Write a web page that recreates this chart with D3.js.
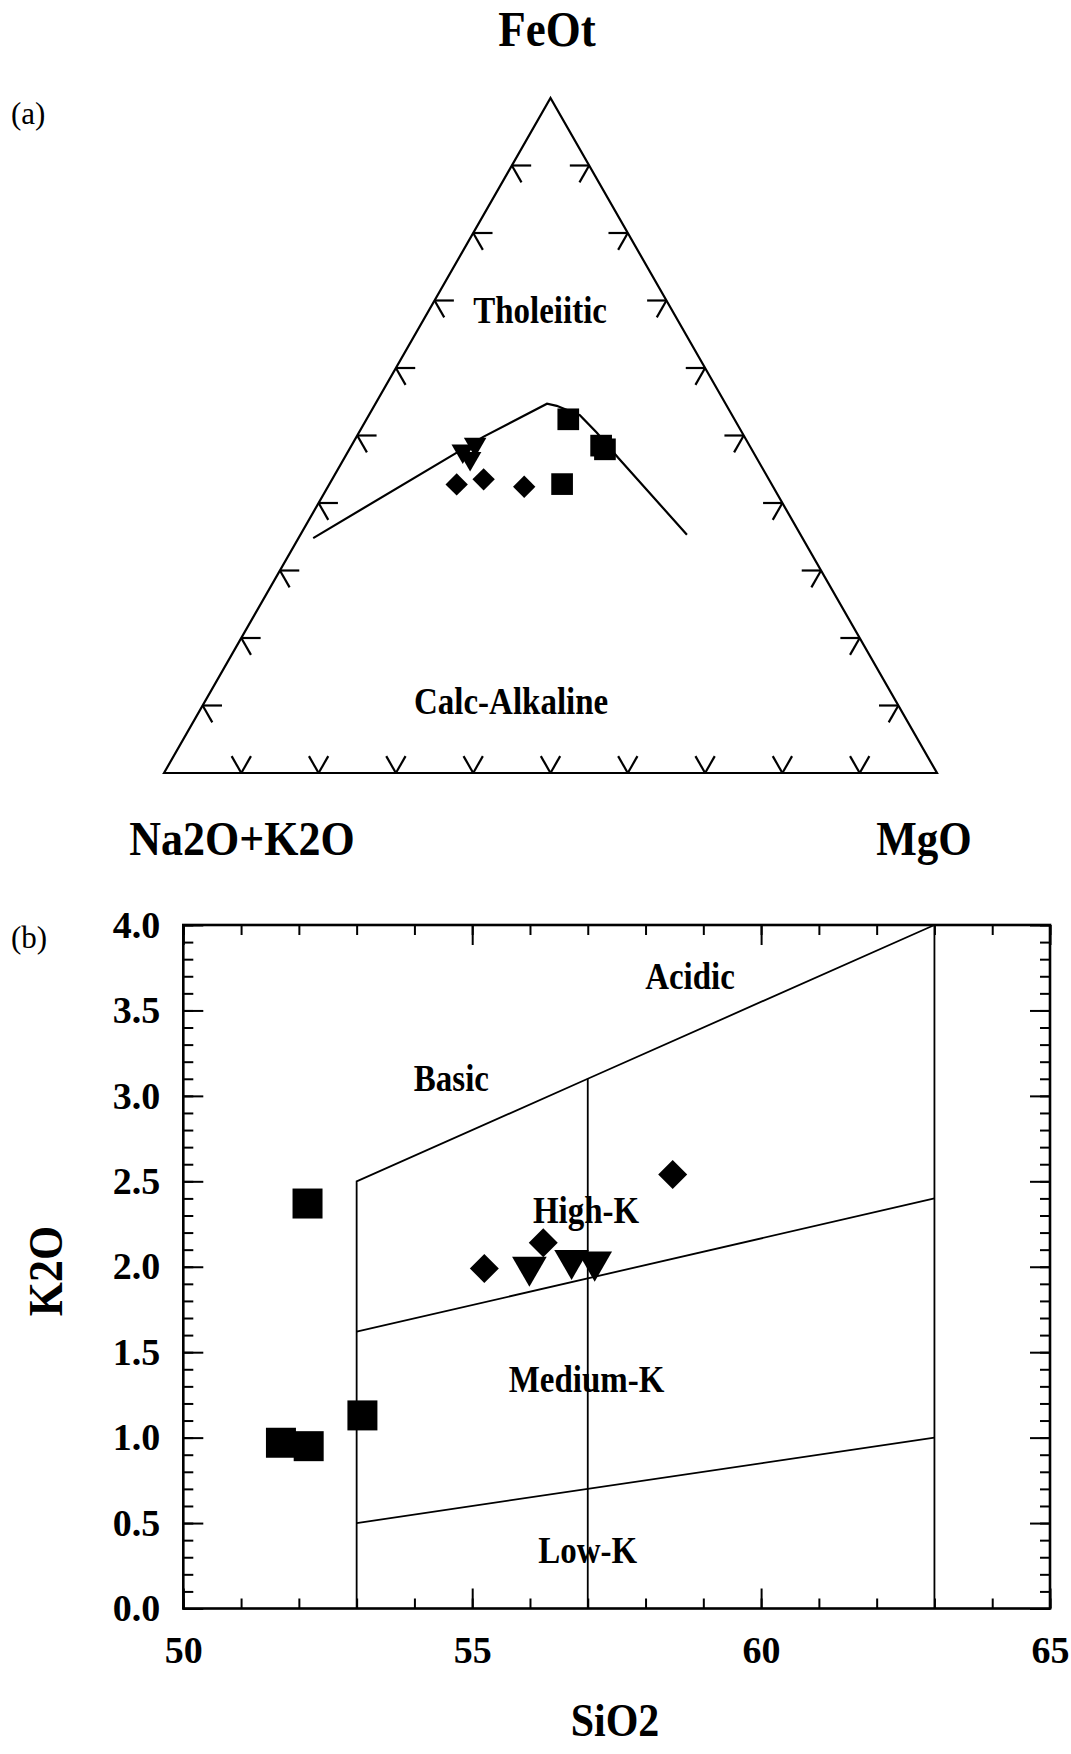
<!DOCTYPE html>
<html>
<head>
<meta charset="utf-8">
<script src="https://cdn.jsdelivr.net/npm/d3@7"></script>
<style>
  body { margin: 0; background: #fff; }
  svg { display: block; }
</style>
</head>
<body>
<svg id="fig" width="1071" height="1754"></svg>
<script>
// (a) AFM ternary, values as [Na2O+K2O, FeOt, MgO] in %
const afmBoundary = [[63.3, 34.8, 1.9], [33.8, 49.8, 16.4], [23.1, 54.7, 22.2], [22.0, 54.4, 23.6],
  [19.7, 53.0, 27.3], [18.8, 50.4, 30.8], [17.9, 46.7, 35.4], [14.7, 35.3, 50.0]];
const afmSquares = [[27.1, 42.8, 30.1], [21.5, 52.4, 26.1], [19.0, 48.0, 33.1], [19.2, 48.5, 32.3]];
const afmDiamonds = [[40.8, 42.8, 16.5], [36.9, 43.5, 19.6], [32.2, 42.4, 25.4]];
const afmTriangles = [[37.5, 47.7, 14.8], [37.1, 46.6, 16.3], [35.4, 48.7, 15.9]];
const ternTicks = [10, 20, 30, 40, 50, 60, 70, 80, 90];
const afmFields = ['Tholeiitic', 'Calc-Alkaline'];
const afmFieldPos = [[17.2, 68.3, 14.5], [49.9, 10.4, 39.7]];

// (b) K2O vs SiO2 (wt%)
const sqSiO2 = [52.15, 51.69, 52.17, 53.1];
const sqK2O = [2.37, 0.97, 0.95, 1.13];
const diSiO2 = [55.21, 56.23, 58.47];
const diK2O = [1.99, 2.14, 2.54];
const trSiO2 = [55.99, 56.72, 57.12];
const trK2O = [2.0, 2.04, 2.03];
const xMajor = [50, 55, 60, 65];
const yMajor = [0, 0.5, 1, 1.5, 2, 2.5, 3, 3.5, 4];
const fieldLines = [
  [[53, 0], [53, 2.5], [57, 3.1], [63, 4.0]],
  [[57, 0], [57, 3.1]],
  [[63, 0], [63, 4.0]],
  [[53, 1.62], [63, 2.4]],
  [[53, 0.5], [63, 1.0]]
];
const kFields = ['Acidic', 'Basic', 'High-K', 'Medium-K', 'Low-K'];
const kFieldPos = [[58.77, 3.69], [54.64, 3.09], [56.97, 2.32], [56.98, 1.33], [57.0, 0.33]];

const svg = d3.select('#fig');
const SERIF = '"Liberation Serif", "Times New Roman", serif';

// bold serif text, slightly stretched vertically like the scan
function label(parent, txt, x, y, size, anchor = 'middle') {
  return parent.append('text')
    .attr('transform', `translate(${x},${y}) scale(1,1.12)`)
    .attr('text-anchor', anchor)
    .attr('font-family', SERIF)
    .attr('font-weight', 'bold')
    .attr('font-size', size)
    .attr('fill', '#000')
    .text(txt);
}

// ---------- (a) ----------
const ga = svg.append('g');
const tu = d3.scaleLinear().domain([0, 1]).range([164, 937]);
const tv = d3.scaleLinear().domain([0, 100]).range([773, 98]);
function tern(p) {
  const s = p[0] + p[1] + p[2];
  const f = p[1] / s * 100, m = p[2] / s;
  return [tu(m + f / 200), tv(f)];
}

ga.append('path')
  .attr('d', d3.line()([tern([100, 0, 0]), tern([0, 100, 0]), tern([0, 0, 100])]) + 'Z')
  .attr('fill', 'none').attr('stroke', '#000').attr('stroke-width', 2.2)
  .attr('stroke-linejoin', 'miter');

// edge ticks drawn along grid directions
const d = 2.5;
const tickSegs = [];
ternTicks.forEach(t => {
  // left edge (MgO = 0)
  const pl = [100 - t, t, 0];
  tickSegs.push([pl, [100 - t - d, t, d]], [pl, [100 - t, t - d, d]]);
  // right edge (Na2O+K2O = 0)
  const pr = [0, t, 100 - t];
  tickSegs.push([pr, [d, t, 100 - t - d]], [pr, [d, t - d, 100 - t]]);
  // bottom edge (FeOt = 0)
  const pb = [100 - t, 0, t];
  tickSegs.push([pb, [100 - t - d, d, t]], [pb, [100 - t, d, t - d]]);
});
ga.selectAll('.tt').data(tickSegs).join('path')
  .attr('d', s => d3.line()(s.map(tern)))
  .attr('stroke', '#000').attr('stroke-width', 2.2).attr('fill', 'none');

ga.append('path')
  .attr('d', d3.line()(afmBoundary.map(tern)))
  .attr('fill', 'none').attr('stroke', '#000').attr('stroke-width', 2.2);

ga.selectAll('.sq').data(afmSquares).join('path')
  .attr('transform', p => `translate(${tern(p)})`)
  .attr('d', d3.symbol().type(d3.symbolSquare).size(470));
ga.selectAll('.di').data(afmDiamonds).join('path')
  .attr('transform', p => `translate(${tern(p)}) rotate(45)`)
  .attr('d', d3.symbol().type(d3.symbolSquare).size(250));
ga.selectAll('.tr').data(afmTriangles).join('path')
  .attr('transform', p => `translate(${tern(p)}) rotate(180)`)
  .attr('d', d3.symbol().type(d3.symbolTriangle).size(220));

afmFields.forEach((f, i) => {
  const [px, py] = tern(afmFieldPos[i]);
  label(ga, f, px, py + 11, 33);
});
label(ga, 'FeOt', 547, 46, 45);
label(ga, 'Na2O+K2O', 242, 855, 44);
label(ga, 'MgO', 924, 855, 43);
ga.append('text').attr('x', 11).attr('y', 124)
  .attr('font-family', SERIF).attr('font-size', 31).text('(a)');

// ---------- (b) ----------
const gb = svg.append('g');
const x = d3.scaleLinear().domain([50, 65]).range([183.3, 1050]);
const y = d3.scaleLinear().domain([0, 4]).range([1608.5, 925]);
const yMinor = d3.range(0, 41).map(i => i / 10);
const xMinor = d3.range(50, 66);

function styleAxis(g) {
  g.select('.domain').remove();
  g.selectAll('line').attr('stroke', '#000').attr('stroke-width', 2);
  g.attr('font-family', SERIF).attr('font-size', 38).attr('font-weight', 'bold');
  g.selectAll('text').attr('fill', '#000');
}
const H = y(0), T = y(4), L = x(50), R = x(65);
gb.append('g').attr('transform', `translate(0,${H})`)
  .call(d3.axisBottom(x).tickValues(xMinor).tickSize(-10).tickFormat('')).call(styleAxis);
gb.append('g').attr('transform', `translate(0,${H})`)
  .call(d3.axisBottom(x).tickValues(xMajor).tickSize(-20).tickPadding(28).tickFormat(d3.format('d'))).call(styleAxis);
gb.append('g').attr('transform', `translate(0,${T})`)
  .call(d3.axisTop(x).tickValues(xMinor).tickSize(-10).tickFormat('')).call(styleAxis);
gb.append('g').attr('transform', `translate(0,${T})`)
  .call(d3.axisTop(x).tickValues(xMajor).tickSize(-20).tickFormat('')).call(styleAxis);
gb.append('g').attr('transform', `translate(${L},0)`)
  .call(d3.axisLeft(y).tickValues(yMinor).tickSize(-10).tickFormat('')).call(styleAxis);
gb.append('g').attr('transform', `translate(${L},0)`)
  .call(d3.axisLeft(y).tickValues(yMajor).tickSize(-20).tickPadding(23).tickFormat(d3.format('.1f'))).call(styleAxis);
gb.append('g').attr('transform', `translate(${R},0)`)
  .call(d3.axisRight(y).tickValues(yMinor).tickSize(-10).tickFormat('')).call(styleAxis);
gb.append('g').attr('transform', `translate(${R},0)`)
  .call(d3.axisRight(y).tickValues(yMajor).tickSize(-20).tickFormat('')).call(styleAxis);

gb.append('rect').attr('x', L).attr('y', T).attr('width', R - L).attr('height', H - T)
  .attr('fill', 'none').attr('stroke', '#000').attr('stroke-width', 2.6);

const kLine = d3.line().x(p => x(p[0])).y(p => y(p[1]));
gb.selectAll('.fl').data(fieldLines).join('path')
  .attr('d', kLine).attr('fill', 'none').attr('stroke', '#000').attr('stroke-width', 1.8);

kFields.forEach((f, i) => {
  label(gb, f, x(kFieldPos[i][0]), y(kFieldPos[i][1]) + 11, 33);
});

gb.selectAll('.bsq').data(sqSiO2).join('path')
  .attr('transform', (s, i) => `translate(${x(s)},${y(sqK2O[i])})`)
  .attr('d', d3.symbol().type(d3.symbolSquare).size(900));
gb.selectAll('.bdi').data(diSiO2).join('path')
  .attr('transform', (s, i) => `translate(${x(s)},${y(diK2O[i])}) rotate(45)`)
  .attr('d', d3.symbol().type(d3.symbolSquare).size(420));
gb.selectAll('.btr').data(trSiO2).join('path')
  .attr('transform', (s, i) => `translate(${x(s)},${y(trK2O[i])}) rotate(180)`)
  .attr('d', d3.symbol().type(d3.symbolTriangle).size(520));

label(gb, 'SiO2', 615, 1736, 42);
gb.append('text')
  .attr('transform', 'translate(62,1271) rotate(-90) scale(1,1.12)')
  .attr('text-anchor', 'middle')
  .attr('font-family', SERIF).attr('font-weight', 'bold').attr('font-size', 44)
  .text('K2O');
gb.append('text').attr('x', 11).attr('y', 948)
  .attr('font-family', SERIF).attr('font-size', 31).text('(b)');
</script>
</body>
</html>
